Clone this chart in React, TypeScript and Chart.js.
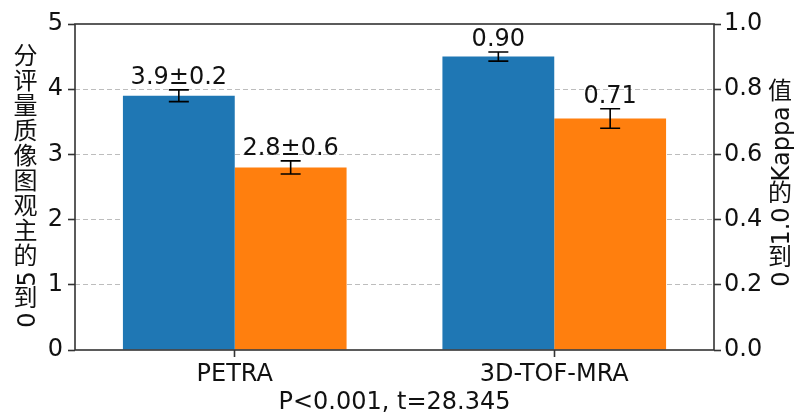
import React, { useEffect, useRef } from 'react';
import { Chart, registerables } from 'chart.js';

Chart.register(...registerables);

// ---- data ----
const categories = ['PETRA', '3D-TOF-MRA'];
const petraScores = [3.9, 2.8];
const petraScoreErrors = [0.09, 0.1];
const petraScoreLabels = ['3.9±0.2', '2.8±0.6'];
const tofKappa = [0.9, 0.71];
const tofKappaErrors = [0.014, 0.03];
const tofKappaLabels = ['0.90', '0.71'];
const leftTicks = [0, 1, 2, 3, 4, 5];
const rightTicks = [0, 0.2, 0.4, 0.6, 0.8, 1.0];
const leftAxisTitle = '0到5的主观图像质量评分';
const rightAxisTitle = '0到1.0的Kappa值';
const xAxisTitle = 'P<0.001, t=28.345';

const FONT = "'DejaVu Sans', 'Noto Sans CJK SC', sans-serif";
const BLUE = '#1f77b4';
const ORANGE = '#ff7f0e';
const FS = 24;

function drawVerticalMixed(ctx: CanvasRenderingContext2D, text: string, cx: number, cy: number, size: number) {
  ctx.save();
  ctx.font = `${size}px ${FONT}`;
  ctx.fillStyle = '#111';
  const segs: { t: string; cjk: boolean; len: number }[] = [];
  let buf = '';
  const flush = () => {
    if (buf) {
      segs.push({ t: buf, cjk: false, len: ctx.measureText(buf).width + 1 });
      buf = '';
    }
  };
  for (const ch of text) {
    if (/[\u3000-\u9fff\uff00-\uffef]/.test(ch)) {
      flush();
      segs.push({ t: ch, cjk: true, len: size + 1 });
    } else buf += ch;
  }
  flush();
  const total = segs.reduce((a, s) => a + s.len, 0);
  let y = cy + total / 2;
  for (const s of segs) {
    const mid = y - s.len / 2;
    if (s.cjk) {
      ctx.textAlign = 'center';
      ctx.textBaseline = 'middle';
      ctx.fillText(s.t, cx, mid);
    } else {
      ctx.save();
      ctx.translate(cx, mid);
      ctx.rotate(-Math.PI / 2);
      ctx.textAlign = 'center';
      ctx.textBaseline = 'middle';
      ctx.fillText(s.t, 0, 3);
      ctx.restore();
    }
    y -= s.len;
  }
  ctx.restore();
}

const overlayPlugin = {
  id: 'overlay',
  afterDatasetsDraw(chart: any) {
    const ctx: CanvasRenderingContext2D = chart.ctx;
    chart.data.datasets.forEach((ds: any, i: number) => {
      const meta = chart.getDatasetMeta(i);
      const scale = chart.scales[ds.yAxisID];
      meta.data.forEach((el: any, j: number) => {
        const v = ds.data[j];
        if (v == null) return;
        const e = ds.errors[j];
        const yTop = scale.getPixelForValue(v + e);
        const yBot = scale.getPixelForValue(v - e);
        ctx.save();
        ctx.strokeStyle = '#000';
        ctx.lineWidth = 1.6;
        ctx.beginPath();
        ctx.moveTo(el.x, yTop);
        ctx.lineTo(el.x, yBot);
        ctx.moveTo(el.x - 10, yTop);
        ctx.lineTo(el.x + 10, yTop);
        ctx.moveTo(el.x - 10, yBot);
        ctx.lineTo(el.x + 10, yBot);
        ctx.stroke();
        ctx.fillStyle = '#111';
        ctx.font = `${FS}px ${FONT}`;
        ctx.textAlign = 'center';
        ctx.textBaseline = 'alphabetic';
        ctx.fillText(ds.valueLabels[j], el.x, yTop - 6);
        ctx.restore();
      });
    });
    const { left, right, top, bottom } = chart.chartArea;
    ctx.save();
    ctx.strokeStyle = '#333';
    ctx.lineWidth = 1.6;
    ctx.strokeRect(left, top, right - left, bottom - top);
    ctx.restore();
  },
  afterDraw(chart: any) {
    const ctx: CanvasRenderingContext2D = chart.ctx;
    const { top, bottom } = chart.chartArea;
    const cy = (top + bottom) / 2;
    drawVerticalMixed(ctx, leftAxisTitle, 25.5, cy, FS);
    drawVerticalMixed(ctx, rightAxisTitle, 780, cy - 3, FS);
  },
};

export default function App() {
  const ref = useRef<HTMLCanvasElement>(null);
  useEffect(() => {
    document.body.style.margin = '0';
    Chart.defaults.font.family = FONT;
    const gridColor = (c: any) =>
      c.tick && (c.tick.value === 0 || c.tick.value === 5) ? 'rgba(0,0,0,0)' : '#bdbdbd';
    const chart = new Chart(ref.current as HTMLCanvasElement, {
      type: 'bar',
      data: {
        labels: categories,
        datasets: [
          { data: [petraScores[0], null], yAxisID: 'y', backgroundColor: BLUE, errors: [petraScoreErrors[0], null], valueLabels: [petraScoreLabels[0], null] } as any,
          { data: [petraScores[1], null], yAxisID: 'y', backgroundColor: ORANGE, errors: [petraScoreErrors[1], null], valueLabels: [petraScoreLabels[1], null] } as any,
          { data: [null, tofKappa[0]], yAxisID: 'y1', backgroundColor: BLUE, errors: [null, tofKappaErrors[0]], valueLabels: [null, tofKappaLabels[0]] } as any,
          { data: [null, tofKappa[1]], yAxisID: 'y1', backgroundColor: ORANGE, errors: [null, tofKappaErrors[1]], valueLabels: [null, tofKappaLabels[1]] } as any,
        ],
      },
      options: {
        animation: false,
        responsive: false,
        devicePixelRatio: 1,
        skipNull: true,
        categoryPercentage: 0.7,
        barPercentage: 1.0,
        layout: { padding: { top: 24, left: 0, right: 0, bottom: 0 } },
        plugins: { legend: { display: false }, tooltip: { enabled: false } },
        scales: {
          x: {
            type: 'category',
            offset: true,
            grid: { display: true, drawOnChartArea: false, drawTicks: true, tickLength: 7, tickColor: '#333', tickWidth: 1.6, offset: false },
            border: { display: false },
            ticks: { font: { size: FS }, color: '#111', padding: 3, maxRotation: 0, autoSkip: false },
            title: { display: true, text: xAxisTitle, font: { size: FS }, color: '#111', padding: { top: 0, bottom: -2 } },
            afterFit(s: any) { s.height = 65; },
          },
          y: {
            position: 'left',
            min: 0,
            max: 5,
            afterBuildTicks(s: any) { s.ticks = leftTicks.map((v) => ({ value: v })); },
            grid: { color: gridColor, lineWidth: 1, tickLength: 7, tickColor: '#333', tickWidth: 1.6 },
            border: { display: false, dash: [5, 3] },
            ticks: { font: { size: FS }, color: '#111', padding: 5 },
            afterFit(s: any) { s.width = 75; },
          },
          y1: {
            position: 'right',
            min: 0,
            max: 1,
            afterBuildTicks(s: any) { s.ticks = rightTicks.map((v) => ({ value: v })); },
            grid: { drawOnChartArea: false, tickLength: 7, tickColor: '#333', tickWidth: 1.6 },
            border: { display: false },
            ticks: { font: { size: FS }, color: '#111', padding: 3, callback: (v: any) => Number(v).toFixed(1) },
            afterFit(s: any) { s.width = 80; },
          },
        },
      } as any,
      plugins: [overlayPlugin],
    });
    return () => chart.destroy();
  }, []);
  return (
    <div style={{ width: 794, height: 415 }}>
      <canvas ref={ref} width={794} height={415} style={{ display: 'block' }} />
    </div>
  );
}
